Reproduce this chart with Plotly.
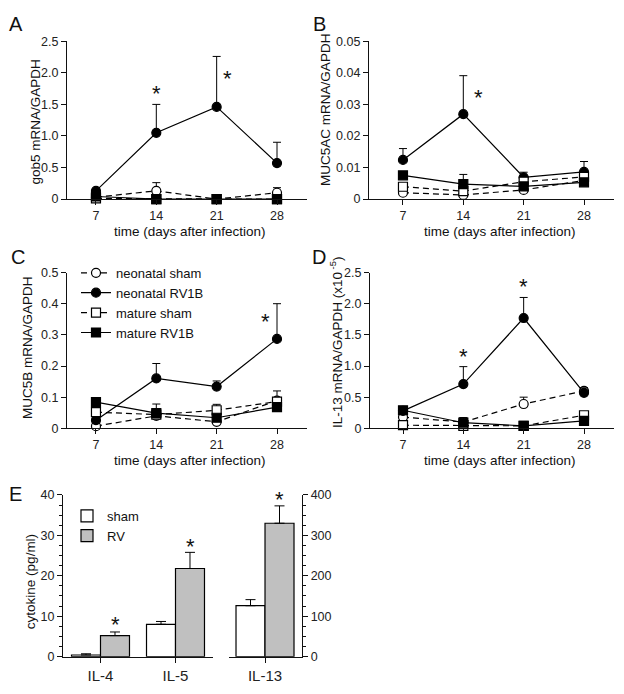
import plotly.graph_objects as go

W, H = 624, 694
def px(x): return x / W
def py(y): return 1 - y / H

FONT = "Liberation Sans, Arial, Helvetica, sans-serif"

# ---------------- data ----------------
days = [7, 14, 21, 28]
series_names = ["neonatal sham", "neonatal RV1B", "mature sham", "mature RV1B"]

# Panel A: gob5 mRNA/GAPDH
gob5_neo_sham = [0.03, 0.13, 0.00, 0.10]
gob5_neo_sham_err = [0.01, 0.13, 0.00, 0.08]
gob5_neo_rv = [0.13, 1.05, 1.46, 0.57]
gob5_neo_rv_err = [0.03, 0.45, 0.80, 0.33]
gob5_mat_sham = [0.01, 0.00, 0.00, 0.00]
gob5_mat_sham_err = [0.0, 0.0, 0.0, 0.0]
gob5_mat_rv = [0.04, 0.00, 0.00, 0.00]
gob5_mat_rv_err = [0.0, 0.0, 0.0, 0.0]

# Panel B: MUC5AC mRNA/GAPDH
muc5ac_neo_sham = [0.0020, 0.0013, 0.0029, 0.0059]
muc5ac_neo_sham_err = [0.0, 0.0, 0.0012, 0.0]
muc5ac_neo_rv = [0.0124, 0.0269, 0.0069, 0.0086]
muc5ac_neo_rv_err = [0.0036, 0.0122, 0.0016, 0.0033]
muc5ac_mat_sham = [0.0039, 0.0025, 0.0055, 0.0070]
muc5ac_mat_sham_err = [0.0, 0.0, 0.0, 0.0]
muc5ac_mat_rv = [0.0075, 0.0047, 0.0040, 0.0053]
muc5ac_mat_rv_err = [0.0, 0.0031, 0.0, 0.0]

# Panel C: MUC5B mRNA/GAPDH
muc5b_neo_sham = [0.007, 0.040, 0.021, 0.089]
muc5b_neo_sham_err = [0.0, 0.038, 0.0, 0.031]
muc5b_neo_rv = [0.026, 0.160, 0.134, 0.287]
muc5b_neo_rv_err = [0.0, 0.048, 0.018, 0.113]
muc5b_mat_sham = [0.052, 0.044, 0.058, 0.086]
muc5b_mat_sham_err = [0.0, 0.0, 0.019, 0.0]
muc5b_mat_rv = [0.084, 0.049, 0.034, 0.068]
muc5b_mat_rv_err = [0.0, 0.0, 0.0, 0.0]

# Panel D: IL-13 mRNA/GAPDH (x10^-5)
il13_neo_sham = [0.18, 0.10, 0.39, 0.60]
il13_neo_sham_err = [0.0, 0.07, 0.11, 0.05]
il13_neo_rv = [0.28, 0.71, 1.77, 0.57]
il13_neo_rv_err = [0.0, 0.28, 0.33, 0.08]
il13_mat_sham = [0.05, 0.04, 0.04, 0.21]
il13_mat_sham_err = [0.0, 0.0, 0.0, 0.0]
il13_mat_rv = [0.29, 0.09, 0.04, 0.12]
il13_mat_rv_err = [0.0, 0.08, 0.0, 0.0]

# Panel E: cytokine (pg/ml)
cyt_left_cats = ["IL-4", "IL-5"]
cyt_left_sham = [0.4, 8.0]
cyt_left_sham_err = [0.3, 0.7]
cyt_left_rv = [5.2, 21.8]
cyt_left_rv_err = [0.9, 4.0]
cyt_right_cats = ["IL-13"]
cyt_right_sham = [126]
cyt_right_sham_err = [15]
cyt_right_rv = [330]
cyt_right_rv_err = [43]

# y tick labels
ticks_A = [0, 0.5, 1.0, 1.5, 2.0, 2.5]
ticktext_A = ["0", "0.5", "1.0", "1.5", "2.0", "2.5"]
ticks_B = [0, 0.01, 0.02, 0.03, 0.04, 0.05]
ticktext_B = ["0", "0.01", "0.02", "0.03", "0.04", "0.05"]
ticks_C = [0, 0.1, 0.2, 0.3, 0.4, 0.5]
ticktext_C = ["0", "0.1", "0.2", "0.3", "0.4", "0.5"]
ticks_D = [0, 0.5, 1.0, 1.5, 2.0, 2.5]
ticktext_D = ["0", "0.5", "1.0", "1.5", "2.0", "2.5"]

# ---------------- styles ----------------
STY = {
    "neonatal sham": dict(symbol="circle", fill="white", dash="6px,4px"),
    "neonatal RV1B": dict(symbol="circle", fill="black", dash="solid"),
    "mature sham": dict(symbol="square", fill="white", dash="6px,4px"),
    "mature RV1B": dict(symbol="square", fill="black", dash="solid"),
}
ORDER = ["neonatal sham", "neonatal RV1B", "mature sham", "mature RV1B"]

fig = go.Figure()

def add_panel(xa, ya, vals, errs, showlegend):
    for name in ORDER:
        s = STY[name]
        fig.add_trace(go.Scatter(
            x=days, y=vals[name], name=name, mode="lines+markers",
            xaxis=xa, yaxis=ya, showlegend=showlegend, cliponaxis=False,
            line=dict(color="black", width=1.2, dash=s["dash"]),
            marker=dict(symbol=s["symbol"], size=9, color=s["fill"],
                        line=dict(color="black", width=1.2)),
            error_y=dict(type="data", symmetric=False, array=errs[name],
                         arrayminus=[0] * len(days), color="black",
                         thickness=1, width=4),
        ))

add_panel("x", "y",
          {"neonatal sham": gob5_neo_sham, "neonatal RV1B": gob5_neo_rv,
           "mature sham": gob5_mat_sham, "mature RV1B": gob5_mat_rv},
          {"neonatal sham": gob5_neo_sham_err, "neonatal RV1B": gob5_neo_rv_err,
           "mature sham": gob5_mat_sham_err, "mature RV1B": gob5_mat_rv_err}, False)
add_panel("x2", "y2",
          {"neonatal sham": muc5ac_neo_sham, "neonatal RV1B": muc5ac_neo_rv,
           "mature sham": muc5ac_mat_sham, "mature RV1B": muc5ac_mat_rv},
          {"neonatal sham": muc5ac_neo_sham_err, "neonatal RV1B": muc5ac_neo_rv_err,
           "mature sham": muc5ac_mat_sham_err, "mature RV1B": muc5ac_mat_rv_err}, False)
add_panel("x3", "y3",
          {"neonatal sham": muc5b_neo_sham, "neonatal RV1B": muc5b_neo_rv,
           "mature sham": muc5b_mat_sham, "mature RV1B": muc5b_mat_rv},
          {"neonatal sham": muc5b_neo_sham_err, "neonatal RV1B": muc5b_neo_rv_err,
           "mature sham": muc5b_mat_sham_err, "mature RV1B": muc5b_mat_rv_err}, True)
add_panel("x4", "y4",
          {"neonatal sham": il13_neo_sham, "neonatal RV1B": il13_neo_rv,
           "mature sham": il13_mat_sham, "mature RV1B": il13_mat_rv},
          {"neonatal sham": il13_neo_sham_err, "neonatal RV1B": il13_neo_rv_err,
           "mature sham": il13_mat_sham_err, "mature RV1B": il13_mat_rv_err}, False)

GRAY = "#c0c0c0"
def bar(x, y, err, name, color, xa, ya, showlegend):
    return go.Bar(x=x, y=y, name=name, xaxis=xa, yaxis=ya, showlegend=showlegend,
                  legend="legend2",
                  marker=dict(color=color, line=dict(color="black", width=1.2)),
                  error_y=dict(type="data", symmetric=False, array=err,
                               arrayminus=[0] * len(y), color="black",
                               thickness=1, width=5))

fig.add_trace(bar(cyt_left_cats, cyt_left_sham, cyt_left_sham_err, "sham", "white", "x5", "y5", True))
fig.add_trace(bar(cyt_left_cats, cyt_left_rv, cyt_left_rv_err, "RV", GRAY, "x5", "y5", True))
fig.add_trace(bar(cyt_right_cats, cyt_right_sham, cyt_right_sham_err, "sham", "white", "x6", "y6", False))
fig.add_trace(bar(cyt_right_cats, cyt_right_rv, cyt_right_rv_err, "RV", GRAY, "x6", "y6", False))

# ---------------- axes ----------------
LINE = dict(showline=True, linecolor="#111", linewidth=1.3, ticks="outside",
            ticklen=5, tickwidth=1, tickcolor="#111", showgrid=False,
            zeroline=False, tickfont=dict(size=12.5, color="#222", family=FONT))

def xline(domain, rng, anchor):
    return dict(LINE, domain=domain, range=rng, anchor=anchor,
                tickmode="array", tickvals=days, ticktext=[str(d) for d in days])

def yline(domain, rng, anchor, tv, tt):
    return dict(LINE, domain=domain, range=rng, anchor=anchor,
                tickmode="array", tickvals=tv, ticktext=tt)

top = [py(196), py(35)]
mid = [py(430), py(271)]
bot = [py(663), py(498)]

fig.update_layout(
    xaxis=xline([px(67), px(307)], [3.64, 31.48], "y"),
    yaxis=yline(top, [0, 2.5], "x", ticks_A, ticktext_A),
    xaxis2=xline([px(369), px(614)], [3.06, 31.48], "y2"),
    yaxis2=yline(top, [0, 0.05], "x2", ticks_B, ticktext_B),
    xaxis3=xline([px(67), px(307)], [3.64, 31.48], "y3"),
    yaxis3=yline(mid, [0, 0.5], "x3", ticks_C, ticktext_C),
    xaxis4=xline([px(370), px(614)], [3.17, 31.48], "y4"),
    yaxis4=yline(mid, [0, 2.5], "x4", ticks_D, ticktext_D),
    xaxis5=dict(LINE, domain=[px(63), px(213)], range=[-0.5, 1.5], anchor="y5",
                type="category", tickfont=dict(size=15, color="#222", family=FONT)),
    yaxis5=dict(LINE, domain=bot, range=[0, 40], anchor="x5", tickmode="linear",
                tick0=0, dtick=10,
                minor=dict(dtick=2.5, ticklen=3, ticks="outside", tickcolor="#111")),
    xaxis6=dict(LINE, domain=[px(229), px(302)], range=[-0.48, 0.493], anchor="y6",
                type="category", tickfont=dict(size=15, color="#222", family=FONT)),
    yaxis6=dict(LINE, domain=bot, range=[0, 400], anchor="x6", side="right",
                tickmode="linear", tick0=0, dtick=100,
                minor=dict(dtick=25, ticklen=3, ticks="outside", tickcolor="#111")),
    barmode="group", bargap=0.227, bargroupgap=0,
    width=W, height=H, margin=dict(l=0, r=0, t=0, b=0),
    paper_bgcolor="white", plot_bgcolor="white",
    font=dict(family=FONT, color="#111"),
    legend=dict(x=px(76), y=py(256), xanchor="left", yanchor="top",
                bgcolor="rgba(0,0,0,0)", font=dict(size=13, family=FONT, color="#111"),
                tracegroupgap=0, itemwidth=30),
    legend2=dict(x=px(67), y=py(504), xanchor="left", yanchor="top",
                 bgcolor="rgba(0,0,0,0)", font=dict(size=13, family=FONT, color="#111"),
                 itemwidth=30),
)

# ---------------- text ----------------
ann = []
def label(x, y, text, size, angle=0):
    ann.append(dict(x=px(x), y=py(y), xref="paper", yref="paper", text=text,
                    showarrow=False, xanchor="center", yanchor="middle",
                    textangle=angle, font=dict(size=size, family=FONT, color="#111")))

for t, x, y in [("A", 16, 17), ("B", 319, 17), ("C", 18, 255), ("D", 319, 255), ("E", 15, 497)]:
    label(x, y, t, 20)

label(190, 229, "time (days after infection)", 13.5)
label(500, 229, "time (days after infection)", 13.5)
label(190, 463, "time (days after infection)", 13.5)
label(500, 463, "time (days after infection)", 13.5)

label(36, 118, "gob5 mRNA/GAPDH", 13.5, -90)
label(326, 105, "MUC5AC mRNA/GAPDH", 13.5, -90)
label(28, 348, "MUC5B mRNA/GAPDH", 13.5, -90)
label(336, 342, "IL-13 mRNA/GAPDH (x10<sup> -5</sup>)", 13.5, -90)
label(30, 587, "cytokine (pg/ml)", 13.5, -90)

STAR_C = -3
def star(xa, ya, x, y, dx, dy):
    ann.append(dict(x=x, y=y, xref=xa, yref=ya, text="*", showarrow=False,
                    xanchor="center", yanchor="middle", xshift=dx, yshift=dy + STAR_C,
                    font=dict(size=22, family=FONT, color="#111")))

# significance markers: placed relative to the top of the error bar
star("x", "y", days[1], gob5_neo_rv[1] + gob5_neo_rv_err[1], 0, 14)
star("x", "y", days[2], gob5_neo_rv[2] + gob5_neo_rv_err[2], 11, -19)
star("x2", "y2", days[1], muc5ac_neo_rv[1] + muc5ac_neo_rv_err[1], 15, -19)
star("x3", "y3", days[3], muc5b_neo_rv[3] + muc5b_neo_rv_err[3], -12, -15)
star("x4", "y4", days[1], il13_neo_rv[1] + il13_neo_rv_err[1], 0, 13)
star("x4", "y4", days[2], il13_neo_rv[2] + il13_neo_rv_err[2], 0, 14)
star("x5", "y5", 0, cyt_left_rv[0] + cyt_left_rv_err[0], 14.5, 10)
star("x5", "y5", 1, cyt_left_rv[1] + cyt_left_rv_err[1], 14.5, 9)
star("x6", "y6", 0, cyt_right_rv[0] + cyt_right_rv_err[0], 14.5, 9)

fig.update_layout(annotations=ann)
fig.write_html("out.html", config={"displayModeBar": False},
               post_script="document.body.style.margin='0px';document.body.style.overflow='hidden';")
